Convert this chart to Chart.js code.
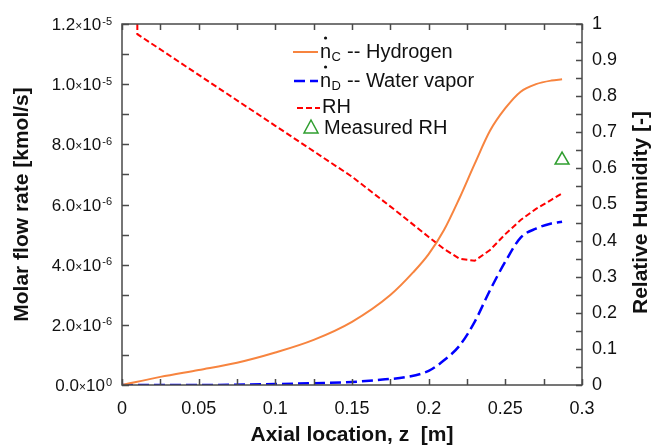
<!DOCTYPE html>
<html>
<head>
<meta charset="utf-8">
<script src="https://cdn.jsdelivr.net/npm/chart.js@4.4.0/dist/chart.umd.min.js"></script>
<style>
html, body { margin: 0; padding: 0; background: #fff; }
#wrap { width: 664px; height: 445px; position: relative; }
</style>
</head>
<body>
<div id="wrap"><canvas id="chart"></canvas></div>
<script>
// valeurs (z en m)
const zHydrogen = [0, 0.025, 0.05, 0.075, 0.1, 0.125, 0.15, 0.175, 0.19, 0.2, 0.21, 0.22, 0.23, 0.24, 0.25, 0.26, 0.27, 0.28, 0.287];
const nHydrogen = [0, 0.27e-6, 0.5e-6, 0.74e-6, 1.08e-6, 1.5e-6, 2.1e-6, 2.99e-6, 3.75e-6, 4.35e-6, 5.15e-6, 6.2e-6, 7.35e-6, 8.45e-6, 9.2e-6, 9.75e-6, 10.0e-6, 10.12e-6, 10.16e-6];

const zWater = [0, 0.05, 0.1, 0.125, 0.15, 0.17, 0.185, 0.2, 0.21, 0.22, 0.23, 0.24, 0.25, 0.26, 0.27, 0.28, 0.287];
const nWater = [0, 0, 0.03e-6, 0.06e-6, 0.1e-6, 0.18e-6, 0.26e-6, 0.47e-6, 0.82e-6, 1.3e-6, 2.1e-6, 3.15e-6, 4.1e-6, 4.9e-6, 5.2e-6, 5.37e-6, 5.43e-6];

const zRH = [0.01, 0.01, 0.05, 0.1, 0.15, 0.18, 0.2, 0.21, 0.22, 0.23, 0.24, 0.25, 0.26, 0.27, 0.28, 0.287];
const rhModel = [1.0, 0.972, 0.859, 0.718, 0.577, 0.478, 0.41, 0.377, 0.35, 0.344, 0.374, 0.418, 0.457, 0.488, 0.513, 0.531];

const zMeasured = [0.287];
const rhMeasured = [0.623];

// libellés des axes
const xTickLabels = ['0', '0.05', '0.1', '0.15', '0.2', '0.25', '0.3'];
const leftTickValues = [0, 2e-6, 4e-6, 6e-6, 8e-6, 1.0e-5, 1.2e-5];
const leftTickMantissa = ['0.0', '2.0', '4.0', '6.0', '8.0', '1.0', '1.2'];
const leftTickExponent = ['0', '-6', '-6', '-6', '-6', '-5', '-5'];
const rightTickLabels = ['0', '0.1', '0.2', '0.3', '0.4', '0.5', '0.6', '0.7', '0.8', '0.9', '1'];

const FONT = "'Liberation Sans', Arial, sans-serif";
const TXT = '#111';
const ORANGE = '#f7843f';
const BLUE = '#0000ff';
const RED = '#ff0000';
const GREEN = '#2f9e2f';

const toXY = (xs, ys) => xs.map((x, i) => ({ x: x, y: ys[i] }));

function legendLine(ctx, x1, x2, y, color, width, dash) {
    ctx.save();
    ctx.strokeStyle = color;
    ctx.lineWidth = width;
    ctx.setLineDash(dash);
    ctx.beginPath();
    ctx.moveTo(x1, y);
    ctx.lineTo(x2, y);
    ctx.stroke();
    ctx.restore();
}

// n avec un point au-dessus + indice
function nDot(ctx, x, base, sub, rest) {
    ctx.font = `20px ${FONT}`;
    ctx.fillText('n', x, base);
    const w = ctx.measureText('n').width;
    ctx.beginPath();
    ctx.arc(x + w / 2, base - 20, 1.6, 0, Math.PI * 2);
    ctx.fill();
    ctx.font = `13px ${FONT}`;
    ctx.fillText(sub, x + w + 0.5, base + 3);
    const sw = ctx.measureText(sub).width;
    ctx.font = `20px ${FONT}`;
    ctx.fillText(rest, x + w + sw + 1, base);
}

const framePlugin = {
    id: 'frame',
    afterDraw(chart) {
        const { ctx, chartArea: a, scales } = chart;
        const sx = scales.x, sy = scales.y, sr = scales.y1;
        ctx.save();

        // cadre + graduations vers l'intérieur
        ctx.strokeStyle = '#4a4a4a';
        ctx.lineWidth = 1.5;
        ctx.strokeRect(a.left, a.top, a.right - a.left, a.bottom - a.top);
        ctx.beginPath();
        for (let i = 0; i <= 12; i++) {
            const px = Math.round(sx.getPixelForValue(i * 0.025)) + 0.5;
            ctx.moveTo(px, a.bottom); ctx.lineTo(px, a.bottom - 6);
            ctx.moveTo(px, a.top); ctx.lineTo(px, a.top + 6);
        }
        for (let i = 0; i <= 12; i++) {
            const py = Math.round(sy.getPixelForValue(i * 1e-6)) + 0.5;
            ctx.moveTo(a.left, py); ctx.lineTo(a.left + 7, py);
        }
        for (let i = 0; i <= 20; i++) {
            const py = Math.round(sr.getPixelForValue(i * 0.05)) + 0.5;
            ctx.moveTo(a.right, py); ctx.lineTo(a.right - 6, py);
        }
        ctx.stroke();

        // libellés axe gauche : 1.2x10^-5
        ctx.fillStyle = TXT;
        ctx.textBaseline = 'alphabetic';
        ctx.textAlign = 'left';
        leftTickValues.forEach((v, i) => {
            const py = sy.getPixelForValue(v);
            const base = py + 6;
            ctx.font = `17px ${FONT}`;
            const wm = ctx.measureText(leftTickMantissa[i]).width;
            const w10 = ctx.measureText('10').width;
            ctx.font = `12px ${FONT}`;
            const wx = ctx.measureText('\u00d7').width;
            ctx.font = `11px ${FONT}`;
            const we = ctx.measureText(leftTickExponent[i]).width;
            let x = a.left - 10 - (wm + wx + w10 + we + 1);
            ctx.font = `17px ${FONT}`;
            ctx.fillText(leftTickMantissa[i], x, base);
            x += wm;
            ctx.font = `12px ${FONT}`;
            ctx.fillText('\u00d7', x, base);
            x += wx;
            ctx.font = `17px ${FONT}`;
            ctx.fillText('10', x, base);
            x += w10 + 1;
            ctx.font = `11px ${FONT}`;
            ctx.fillText(leftTickExponent[i], x, py + 0.5);
        });

        // titres des axes
        ctx.font = `bold 21px ${FONT}`;
        ctx.textAlign = 'center';
        ctx.textBaseline = 'middle';
        ctx.save();
        ctx.translate(22, (a.top + a.bottom) / 2);
        ctx.rotate(-Math.PI / 2);
        ctx.fillText('Molar flow rate [kmol/s]', 0, 0);
        ctx.restore();
        ctx.save();
        ctx.translate(641, (a.top + a.bottom) / 2 + 8);
        ctx.rotate(-Math.PI / 2);
        ctx.fillText('Relative Humidity [-]', 0, 0);
        ctx.restore();
        ctx.fillText('Axial location, z  [m]', (a.left + a.right) / 2, 435);

        // légende
        ctx.textAlign = 'left';
        ctx.textBaseline = 'alphabetic';
        legendLine(ctx, 293, 318, 52, ORANGE, 2, []);
        nDot(ctx, 320, 58, 'C', ' -- Hydrogen');
        legendLine(ctx, 294, 318, 81, BLUE, 2.5, [11, 5]);
        nDot(ctx, 320, 87, 'D', ' -- Water vapor');
        legendLine(ctx, 297, 320, 108, RED, 2, [6, 3]);
        ctx.font = `20px ${FONT}`;
        ctx.fillText('RH', 322, 113);
        ctx.strokeStyle = GREEN;
        ctx.lineWidth = 1.5;
        ctx.beginPath();
        ctx.moveTo(311, 120); ctx.lineTo(318, 133); ctx.lineTo(304, 133); ctx.closePath();
        ctx.stroke();
        ctx.fillText('Measured RH', 324, 134);

        ctx.restore();
    }
};

const chart = new Chart(document.getElementById('chart'), {
    type: 'line',
    data: {
        datasets: [
            {
                label: 'Hydrogen',
                data: toXY(zHydrogen, nHydrogen),
                yAxisID: 'y',
                borderColor: ORANGE,
                borderWidth: 2,
                pointRadius: 0,
                cubicInterpolationMode: 'monotone',
                fill: false
            },
            {
                label: 'Water vapor',
                data: toXY(zWater, nWater),
                yAxisID: 'y',
                borderColor: BLUE,
                borderWidth: 2.5,
                borderDash: [11, 5],
                pointRadius: 0,
                cubicInterpolationMode: 'monotone',
                fill: false
            },
            {
                label: 'RH',
                data: toXY(zRH, rhModel),
                yAxisID: 'y1',
                borderColor: RED,
                borderWidth: 2,
                borderDash: [6, 3],
                pointRadius: 0,
                tension: 0,
                fill: false
            },
            {
                label: 'Measured RH',
                data: toXY(zMeasured, rhMeasured),
                yAxisID: 'y1',
                showLine: false,
                pointStyle: 'triangle',
                pointRadius: 8,
                pointBorderWidth: 1.5,
                pointBorderColor: GREEN,
                pointBackgroundColor: 'rgba(0,0,0,0)'
            }
        ]
    },
    options: {
        responsive: true,
        maintainAspectRatio: false,
        animation: false,
        layout: { padding: { top: 24, left: 0, right: 0, bottom: 0 } },
        plugins: {
            legend: { display: false },
            tooltip: { enabled: false }
        },
        scales: {
            x: {
                type: 'linear',
                min: 0,
                max: 0.3,
                grid: { display: false },
                border: { display: false },
                ticks: {
                    stepSize: 0.05,
                    autoSkip: false,
                    maxRotation: 0,
                    padding: 5,
                    color: TXT,
                    font: { family: FONT, size: 18 },
                    callback: (v, i) => xTickLabels[i]
                },
                afterFit: s => { s.height = 60; }
            },
            y: {
                position: 'left',
                min: 0,
                max: 1.2e-5,
                grid: { display: false },
                border: { display: false },
                ticks: { display: false, stepSize: 2e-6 },
                afterFit: s => { s.width = 122; }
            },
            y1: {
                position: 'right',
                min: 0,
                max: 1,
                grid: { display: false },
                border: { display: false },
                ticks: {
                    stepSize: 0.1,
                    padding: 2,
                    color: TXT,
                    font: { family: FONT, size: 18 },
                    callback: (v, i) => rightTickLabels[i]
                },
                afterFit: s => { s.width = 82; }
            }
        }
    },
    plugins: [framePlugin]
});
</script>
</body>
</html>
